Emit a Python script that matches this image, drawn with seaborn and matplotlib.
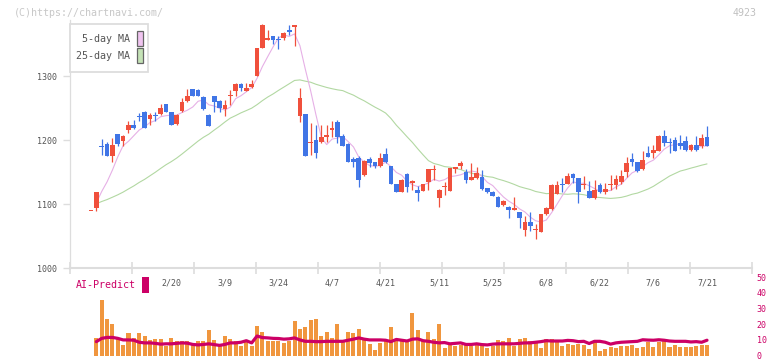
import numpy as np
import pandas as pd
import matplotlib
matplotlib.use("Agg")
import matplotlib.pyplot as plt
from matplotlib.patches import Rectangle
from matplotlib.transforms import blended_transform_factory
import seaborn as sns

# ---------------- data ----------------
opens = [1090, 1093, 1190, 1194, 1175, 1209, 1199, 1216, 1224, 1237,
         1244, 1233, 1239, 1241, 1256, 1243, 1225, 1246, 1261, 1279,
         1278, 1267, 1239, 1268, 1261, 1248, 1269, 1276, 1288, 1277,
         1283, 1300, 1343, 1357, 1363, 1358, 1360, 1372, 1376, 1238,
         1241, 1195, 1200, 1197, 1204, 1216, 1228, 1206, 1194, 1170,
         1172, 1145, 1170, 1165, 1160, 1178, 1159, 1131, 1119, 1147,
         1133, 1122, 1121, 1135, 1153, 1110, 1126, 1121, 1154, 1160,
         1150, 1138, 1140, 1142, 1125, 1119, 1111, 1098, 1096, 1091,
         1087, 1059, 1072, 1059, 1057, 1084, 1092, 1116, 1132, 1132,
         1147, 1140, 1129, 1121, 1109, 1130, 1118, 1129, 1130, 1135,
         1150, 1170, 1166, 1154, 1180, 1180, 1183, 1207, 1197, 1200,
         1196, 1199, 1184, 1192, 1190, 1205]
highs = [1090, 1119, 1202, 1197, 1203, 1210, 1208, 1229, 1232, 1242,
         1245, 1242, 1243, 1256, 1256, 1243, 1240, 1265, 1279, 1280,
         1279, 1268, 1240, 1268, 1262, 1262, 1278, 1289, 1289, 1289,
         1293, 1343, 1382, 1372, 1363, 1362, 1369, 1380, 1380, 1282,
         1241, 1226, 1223, 1223, 1223, 1229, 1231, 1210, 1195, 1174,
         1175, 1168, 1174, 1166, 1179, 1187, 1160, 1132, 1139, 1148,
         1137, 1128, 1132, 1154, 1161, 1123, 1135, 1156, 1158, 1167,
         1155, 1164, 1158, 1153, 1125, 1120, 1112, 1106, 1097, 1111,
         1088, 1081, 1088, 1069, 1085, 1096, 1131, 1136, 1140, 1148,
         1148, 1141, 1144, 1136, 1138, 1133, 1133, 1145, 1145, 1153,
         1174, 1180, 1166, 1183, 1191, 1192, 1208, 1216, 1203, 1205,
         1208, 1206, 1193, 1206, 1210, 1222]
lows = [1090, 1089, 1176, 1175, 1166, 1191, 1191, 1211, 1217, 1229,
        1219, 1224, 1230, 1239, 1244, 1223, 1224, 1244, 1260, 1268,
        1268, 1247, 1222, 1244, 1243, 1238, 1255, 1269, 1276, 1276,
        1282, 1300, 1343, 1356, 1350, 1342, 1357, 1364, 1347, 1228,
        1175, 1177, 1172, 1196, 1197, 1205, 1195, 1190, 1166, 1158,
        1127, 1144, 1158, 1157, 1158, 1164, 1131, 1119, 1118, 1118,
        1122, 1104, 1120, 1122, 1137, 1096, 1114, 1121, 1148, 1155,
        1133, 1137, 1139, 1122, 1117, 1112, 1096, 1097, 1078, 1090,
        1062, 1050, 1058, 1046, 1056, 1083, 1091, 1115, 1119, 1131,
        1133, 1102, 1124, 1110, 1108, 1117, 1115, 1122, 1123, 1132,
        1142, 1159, 1150, 1153, 1173, 1172, 1183, 1190, 1179, 1183,
        1186, 1183, 1183, 1183, 1187, 1190]
closes = [1090, 1119, 1189, 1175, 1192, 1194, 1206, 1223, 1219, 1236,
          1219, 1239, 1238, 1250, 1244, 1223, 1239, 1259, 1268, 1269,
          1268, 1248, 1222, 1259, 1250, 1255, 1271, 1288, 1282, 1281,
          1288, 1343, 1380, 1360, 1357, 1357, 1367, 1368, 1380, 1265,
          1175, 1197, 1179, 1205, 1208, 1218, 1205, 1191, 1166, 1166,
          1138, 1167, 1164, 1160, 1172, 1165, 1131, 1119, 1138, 1126,
          1136, 1117, 1131, 1154, 1155, 1122, 1128, 1156, 1158, 1164,
          1138, 1142, 1148, 1123, 1118, 1113, 1096, 1105, 1090, 1093,
          1078, 1072, 1065, 1061, 1084, 1093, 1130, 1130, 1129, 1144,
          1140, 1118, 1131, 1110, 1122, 1118, 1124, 1131, 1139, 1143,
          1164, 1166, 1151, 1168, 1174, 1184, 1207, 1195, 1195, 1183,
          1190, 1184, 1192, 1184, 1203, 1190]
# estimated close level before the visible window (seeds the moving averages)
prior_close = 1100

# volume-like bars (trading days 1..115) and AI-Predict line
volume = [11.7, 36, 23.7, 20.6, 11.7, 7.3, 14.9, 11.7, 14.9, 13.2,
          10.6, 11, 11, 6.4, 11.7, 10, 10, 10, 7.3, 9.5,
          9.5, 17, 10.6, 7.3, 13.2, 11, 9.5, 6.8, 10, 6.4,
          19.5, 15.7, 9.5, 10, 9.5, 8.6, 9.5, 22.7, 17.4, 18.5,
          23, 24.2, 13.2, 15.7, 11.7, 20.6, 10.3, 15.7, 14.9, 17.4,
          11, 7.9, 4.1, 8.6, 10.3, 18.5, 10, 10.3, 10, 27.5,
          17, 10, 15.7, 11, 20.9, 5.6, 7.3, 6.8,
          7.3, 8.6, 6.4, 8.6, 6.4, 5.2, 6.4, 10.6, 10, 11.7,
          6.4, 11, 11.7, 10, 10, 5.4, 11, 11, 8.9, 6.4,
          7.9, 7.3, 7.9, 7.3, 4.4, 10.3, 3.5, 4.8, 5.8, 5.2,
          6.4, 6.8, 7.3, 5.4, 5.8, 8.9, 5.8, 8.9, 9.5, 5.8,
          7.3, 6.2, 5.8, 5.8, 6.4, 7.3, 7.3]
ai_predict = [9.4, 11.5, 12.1, 12.1, 11.5, 10.5, 10.5, 10.3, 9.0, 8.6,
              8.6, 8.3, 7.8, 8.0, 8.0, 8.3, 8.6, 8.4, 7.6, 7.3,
              7.6, 8.0, 7.5, 7.0, 7.6, 8.6, 8.6, 9.0, 10.0, 8.6,
              13.0, 12.0, 11.8, 11.5, 11.4, 11.0, 11.2, 11.8, 10.5, 9.6,
              9.6, 9.4, 9.4, 9.6, 9.6, 9.6, 9.6, 10.3, 11.0, 11.8,
              11.0, 10.5, 10.5, 10.5, 10.3, 9.4, 10.8, 10.3, 9.8, 11.0,
              11.2, 10.0, 9.6, 9.0, 8.6, 8.8, 8.0, 8.3,
              8.6, 7.6, 7.6, 8.0, 7.5, 7.3, 7.8, 8.0, 8.0, 8.0,
              8.0, 8.3, 8.6, 8.6, 9.0, 9.4, 10.0, 9.8, 9.8, 9.8,
              10.2, 10.0, 9.4, 9.6, 8.2, 9.6, 9.6, 9.0, 7.8, 8.6,
              9.0, 9.2, 9.4, 9.6, 10.6, 10.4, 10.3, 10.6, 10.3, 9.8,
              9.6, 9.6, 9.6, 9.2, 9.4, 9.0, 10.3]

date_labels = ["2/20", "3/9", "3/24", "4/7", "4/21", "5/11",
               "5/25", "6/8", "6/22", "7/6", "7/21"]
label_days = [15, 25, 35, 45, 55, 65, 75, 85, 95, 105, 115]
price_ticks = [1000, 1100, 1200, 1300]
sub_ticks = [0, 10, 20, 30, 40, 50]

# ---------------- styling ----------------
RED = "#f0503c"
BLUE = "#4075e6"
PINK = "#e6b0e6"
GREEN = "#b2d8a2"
ORANGE = "#f0963e"
CRIMSON = "#cc0066"
AXIS = "#dddddd"
TXT = "#555555"

sns.set_theme(style="white")
plt.rcParams['font.family'] = ['DejaVu Sans Mono', 'DejaVu Sans']

W, H = 772, 361
fig = plt.figure(figsize=(W / 100, H / 100), dpi=100)
fig.patch.set_facecolor("white")


def fx(x):
    return x / W


def fy(y):
    return 1 - y / H


# pixel layout
PX_LEFT, PX_RIGHT = 70, 752
FIRST_PX, LAST_PX = 91, 707
SUB_BOTTOM, SUB_TOP = 356.3, 278.3
ax = fig.add_axes([fx(PX_LEFT), fy(268), (PX_RIGHT - PX_LEFT) / W, (268 - 20) / H])
ax2 = fig.add_axes([fx(PX_LEFT), fy(SUB_BOTTOM + 1.5), (PX_RIGHT - PX_LEFT) / W,
                    (SUB_BOTTOM + 1.5 - SUB_TOP) / H])

n = len(closes)
days = np.arange(n)
step = (LAST_PX - FIRST_PX) / (n - 1)
xlim = ((PX_LEFT - FIRST_PX) / step, (PX_RIGHT - FIRST_PX) / step)

o = np.array(opens, float)
h = np.array(highs, float)
l = np.array(lows, float)
c = np.array(closes, float)

# moving averages of closes
ext = pd.Series([prior_close] * 24 + closes, dtype=float)
ma5 = ext.rolling(5).mean().to_numpy()[24:]
ma25 = ext.rolling(25).mean().to_numpy()[24:]

sns.lineplot(x=days[1:], y=ma25[1:], ax=ax, color=GREEN, lw=0.8, zorder=2, legend=False)
sns.lineplot(x=days[1:], y=ma5[1:], ax=ax, color=PINK, lw=0.8, zorder=2, legend=False)

up = c >= o
cols = np.where(up, RED, BLUE)
body = np.abs(c - o)
body_h = np.maximum(body, 1.6)
body_bottom = np.minimum(o, c) - (body_h - body) / 2
ax.vlines(days, l, h, colors=cols, lw=0.9, zorder=3)
ax.bar(days, body_h, bottom=body_bottom, width=0.88, color=cols, linewidth=0, zorder=4)

ax.set_xlim(*xlim)
ax.set_ylim(1000, 1000 + 248 / 0.64)
ax.set_yticks(price_ticks)
ax.set_yticklabels([str(t) for t in price_ticks])
ax.set_xticks(np.linspace(xlim[0], xlim[1], 12))
ax.set_xticklabels([])
ax.grid(False)
for s in ["top", "right"]:
    ax.spines[s].set_visible(False)
ax.spines["left"].set_color(AXIS)
ax.spines["left"].set_linewidth(0.9)
ax.spines["bottom"].set_color(AXIS)
ax.spines["bottom"].set_linewidth(1.5)
ax.tick_params(axis="y", direction="out", length=5, width=1, color=AXIS,
               labelcolor=TXT, labelsize=6, pad=4, left=True)
ax.tick_params(axis="x", direction="inout", length=8, width=1.2, color=AXIS, bottom=True)
ax.set_facecolor("white")
ax.set_xlabel("")
ax.set_ylabel("")

trans = blended_transform_factory(ax.transData, fig.transFigure)
for d, lab in zip(label_days, date_labels):
    ax.text(d, fy(283.5), lab, transform=trans, ha="center", va="center",
            fontsize=6, color=TXT, clip_on=False)

# ---------------- lower panel ----------------
vol_days = days[1:]
sns.barplot(x=vol_days, y=volume, native_scale=True, ax=ax2, color=ORANGE,
            width=0.75, saturation=1, errorbar=None, linewidth=0, zorder=2)
sns.lineplot(x=vol_days, y=ai_predict, ax=ax2, color=CRIMSON, lw=2.3, zorder=5, legend=False)
ax2.set_xlim(*xlim)
sub_scale = 50 / (SUB_BOTTOM - SUB_TOP)
ax2.set_ylim(-1.5 * sub_scale, 50)
ax2.set_yticks(sub_ticks)
ax2.set_yticklabels([str(t) for t in sub_ticks])
ax2.yaxis.tick_right()
ax2.tick_params(axis="y", length=0, pad=3.5, labelcolor=CRIMSON, labelsize=6, right=True, left=False)
for lbl in ax2.get_yticklabels():
    lbl.set_va("center")
ax2.set_xticks([])
ax2.set_xlabel("")
ax2.set_ylabel("")
for s in ax2.spines.values():
    s.set_visible(False)
ax2.patch.set_alpha(0)
ax2.grid(False)

# AI-Predict label
fig.text(fx(76), fy(285), "AI-Predict", ha="left", va="center", fontsize=7.2, color=CRIMSON)
fig.add_artist(Rectangle((fx(142), fy(293)), 7 / W, 16 / H, transform=fig.transFigure,
                         facecolor=CRIMSON, edgecolor="none"))

# ---------------- legend box ----------------
fig.add_artist(Rectangle((fx(70), fy(72)), 78 / W, 48 / H, transform=fig.transFigure,
                         facecolor="white", edgecolor=AXIS, linewidth=1.3, zorder=5))
fig.text(fx(129.5), fy(39), "5-day MA", ha="right", va="center", fontsize=7.2, color=TXT, zorder=6)
fig.text(fx(129.5), fy(56), "25-day MA", ha="right", va="center", fontsize=7.2, color=TXT, zorder=6)
fig.add_artist(Rectangle((fx(136.5), fy(46)), 6 / W, 15 / H, transform=fig.transFigure,
                         facecolor="#f0c4f0", edgecolor="#666666", linewidth=0.9, zorder=6))
fig.add_artist(Rectangle((fx(136.5), fy(63)), 6 / W, 15 / H, transform=fig.transFigure,
                         facecolor="#c4e2b6", edgecolor="#666666", linewidth=0.9, zorder=6))

# header texts
fig.text(fx(14), fy(12.5), "(C)https://chartnavi.com/", ha="left", va="center",
         fontsize=7.2, color="#c8c8c8")
fig.text(fx(757), fy(12.5), "4923", ha="right", va="center", fontsize=7.2, color="#c0c0c0")

fig.savefig("out.png", dpi=100, facecolor="white")
